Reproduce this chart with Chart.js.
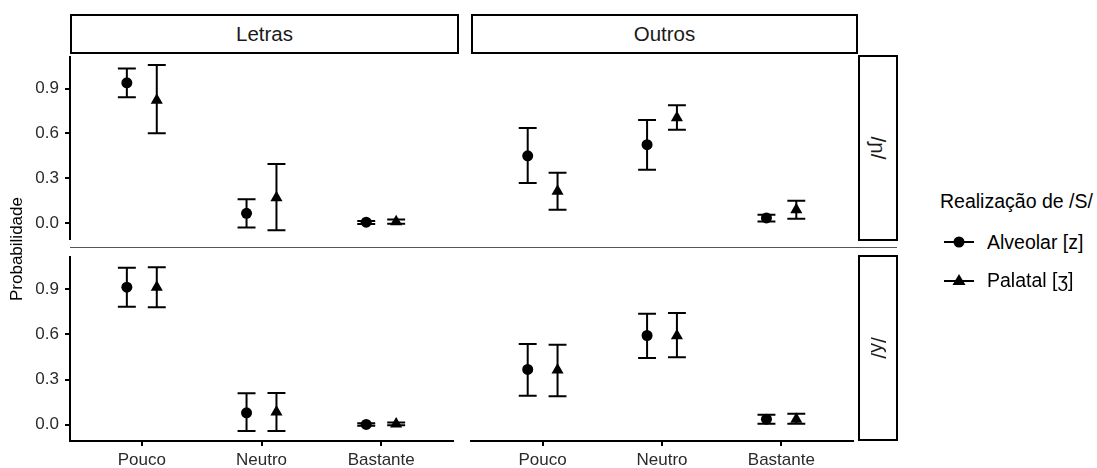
<!DOCTYPE html>
<html>
<head>
<meta charset="utf-8">
<script src="https://cdn.jsdelivr.net/npm/chart.js@4"></script>
<style>
  body { margin: 0; background: #fff; font-family: "Liberation Sans", Arial, sans-serif; }
  #wrap { position: relative; width: 1097px; height: 468px; background: #fff; overflow: hidden; }
  canvas { position: absolute; }
  .strip { position: absolute; box-sizing: border-box; border: 2px solid #000; background: #fff;
           display: flex; align-items: center; justify-content: center; color: #1a1a1a; font-size: 20.5px; }
  .strip.side span { display: inline-block; transform: rotate(90deg); white-space: nowrap; }
  #ytitle { position: absolute; left: 17px; top: 249px; transform: translate(-50%, -50%) rotate(-90deg);
            font-size: 17px; color: #000; white-space: nowrap; }
  #sep { position: absolute; left: 70px; top: 247px; width: 827px; height: 1px; background: #555; }
  #legend { position: absolute; left: 940px; top: 190px; color: #000; }
  #legend .title { font-size: 19.5px; margin-bottom: 10px; }
  #legend .row { display: flex; align-items: center; font-size: 19.5px; height: 38px; }
  #legend svg { margin-left: 3px; margin-right: 12px; }
</style>
</head>
<body>
<div id="wrap">
  <canvas id="tl" width="460" height="196" style="left:0;top:50px"></canvas>
  <canvas id="tr" width="400" height="196" style="left:460px;top:50px"></canvas>
  <canvas id="bl" width="460" height="218" style="left:0;top:250px"></canvas>
  <canvas id="br" width="400" height="218" style="left:460px;top:250px"></canvas>

  <div class="strip" style="left:70px;top:14px;width:389px;height:40px">Letras</div>
  <div class="strip" style="left:471px;top:14px;width:387px;height:40px">Outros</div>
  <div class="strip side" style="left:858px;top:55px;width:40px;height:186px"><span>/ɲ/</span></div>
  <div class="strip side" style="left:858px;top:255px;width:40px;height:186px"><span>/ʎ/</span></div>
  <div id="sep"></div>
  <div id="ytitle">Probabilidade</div>

  <div id="legend">
    <div class="title">Realização de /S/</div>
    <div class="row">
      <svg width="32" height="16"><line x1="1" y1="8" x2="31" y2="8" stroke="#000" stroke-width="2"/><circle cx="16" cy="8" r="5.5" fill="#000"/></svg>
      Alveolar [z]
    </div>
    <div class="row">
      <svg width="32" height="16"><line x1="1" y1="9" x2="31" y2="9" stroke="#000" stroke-width="2"/><polygon points="16,2 22.5,13 9.5,13" fill="#000"/></svg>
      Palatal [ʒ]
    </div>
  </div>
</div>

<script>
const categories = ['Pouco', 'Neutro', 'Bastante'];
const yTickValues = [0, 0.3, 0.6, 0.9];

// Letras, /ɲ/
const letrasNhAlveolar   = [0.94, 0.064, 0.005];
const letrasNhAlveolarLo = [0.843, -0.031, -0.008];
const letrasNhAlveolarHi = [1.036, 0.158, 0.012];
const letrasNhPalatal    = [0.823, 0.168, 0.008];
const letrasNhPalatalLo  = [0.601, -0.05, -0.005];
const letrasNhPalatalHi  = [1.06, 0.395, 0.022];

// Outros, /ɲ/
const outrosNhAlveolar   = [0.45, 0.525, 0.033];
const outrosNhAlveolarLo = [0.268, 0.357, 0.01];
const outrosNhAlveolarHi = [0.636, 0.691, 0.055];
const outrosNhPalatal    = [0.212, 0.706, 0.088];
const outrosNhPalatalLo  = [0.088, 0.625, 0.028];
const outrosNhPalatalHi  = [0.336, 0.79, 0.149];

// Letras, /ʎ/
const letrasLhAlveolar   = [0.913, 0.079, 0.002];
const letrasLhAlveolarLo = [0.783, -0.042, -0.006];
const letrasLhAlveolarHi = [1.042, 0.209, 0.01];
const letrasLhPalatal    = [0.913, 0.085, 0.005];
const letrasLhPalatalLo  = [0.779, -0.042, -0.004];
const letrasLhPalatalHi  = [1.045, 0.211, 0.014];

// Outros, /ʎ/
const outrosLhAlveolar   = [0.367, 0.592, 0.037];
const outrosLhAlveolarLo = [0.193, 0.443, 0.007];
const outrosLhAlveolarHi = [0.535, 0.737, 0.066];
const outrosLhPalatal    = [0.363, 0.59, 0.036];
const outrosLhPalatalLo  = [0.189, 0.448, 0.007];
const outrosLhPalatalHi  = [0.531, 0.742, 0.072];

const dodge = 0.125;
const capHalf = 0.075;

Chart.defaults.font.family = '"Liberation Sans", Arial, sans-serif';
Chart.defaults.font.size = 17;
Chart.defaults.color = '#2a2a2a';

// error bars drawn through the chart's own scales
const errorBars = {
  id: 'errorBars',
  beforeDatasetsDraw(chart) {
    const { ctx, scales: { x, y } } = chart;
    ctx.save();
    ctx.strokeStyle = '#000';
    ctx.lineWidth = 2;
    chart.data.datasets.forEach(ds => {
      ds.data.forEach(p => {
        const px = x.getPixelForValue(p.x);
        const l = x.getPixelForValue(p.x - capHalf), r = x.getPixelForValue(p.x + capHalf);
        const top = y.getPixelForValue(p.hi), bot = y.getPixelForValue(p.lo);
        ctx.beginPath();
        ctx.moveTo(px, top); ctx.lineTo(px, bot);
        ctx.moveTo(l, top); ctx.lineTo(r, top);
        ctx.moveTo(l, bot); ctx.lineTo(r, bot);
        ctx.stroke();
      });
    });
    ctx.restore();
  }
};

function points(mean, lo, hi, shift) {
  return mean.map((v, i) => ({ x: i + 1 + shift, y: v, lo: lo[i], hi: hi[i] }));
}

function makePanel(id, alv, pal, showX, showY, padding) {
  new Chart(document.getElementById(id), {
    type: 'scatter',
    data: {
      datasets: [
        { label: 'Alveolar [z]', data: points(alv[0], alv[1], alv[2], -dodge),
          pointStyle: 'circle', pointRadius: 5.5, backgroundColor: '#000', borderWidth: 0 },
        { label: 'Palatal [ʒ]', data: points(pal[0], pal[1], pal[2], dodge),
          pointStyle: 'triangle', pointRadius: 7, backgroundColor: '#000', borderWidth: 0 }
      ]
    },
    options: {
      responsive: false,
      animation: false,
      devicePixelRatio: 1,
      layout: { padding: padding },
      plugins: { legend: { display: false }, tooltip: { enabled: false } },
      scales: {
        x: {
          type: 'linear', min: 0.4, max: 3.6, display: showX,
          afterBuildTicks: s => { s.ticks = [1, 2, 3].map(v => ({ value: v })); },
          afterFit: s => {
            if (showX) s.height = 27;
            s.paddingLeft = 0; s.paddingRight = 0;
          },
          ticks: { callback: v => categories[v - 1], autoSkip: false, maxRotation: 0, padding: 4 },
          grid: { drawOnChartArea: false, tickLength: 5, color: '#000', lineWidth: 2 },
          border: { display: true, color: '#000', width: 2 }
        },
        y: {
          min: -0.108, max: 1.113, display: showY,
          afterBuildTicks: s => { s.ticks = yTickValues.map(v => ({ value: v })); },
          afterFit: s => {
            if (showY) s.width = 70;
            s.paddingTop = 0; s.paddingBottom = 0;
          },
          ticks: { callback: v => v.toFixed(1), padding: 6 },
          grid: { drawOnChartArea: false, tickLength: 5, color: '#000', lineWidth: 2 },
          border: { display: true, color: '#000', width: 2 }
        }
      }
    },
    plugins: [errorBars]
  });
}

makePanel('tl',
  [letrasNhAlveolar, letrasNhAlveolarLo, letrasNhAlveolarHi],
  [letrasNhPalatal, letrasNhPalatalLo, letrasNhPalatalHi],
  false, true, { left: 0, top: 6, right: 2, bottom: 4 });
makePanel('tr',
  [outrosNhAlveolar, outrosNhAlveolarLo, outrosNhAlveolarHi],
  [outrosNhPalatal, outrosNhPalatalLo, outrosNhPalatalHi],
  false, false, { left: 11, top: 6, right: 3, bottom: 4 });
makePanel('bl',
  [letrasLhAlveolar, letrasLhAlveolarLo, letrasLhAlveolarHi],
  [letrasLhPalatal, letrasLhPalatalLo, letrasLhPalatalHi],
  true, true, { left: 0, top: 5, right: 2, bottom: 0 });
makePanel('br',
  [outrosLhAlveolar, outrosLhAlveolarLo, outrosLhAlveolarHi],
  [outrosLhPalatal, outrosLhPalatalLo, outrosLhPalatalHi],
  true, false, { left: 11, top: 5, right: 3, bottom: 0 });
</script>
</body>
</html>
